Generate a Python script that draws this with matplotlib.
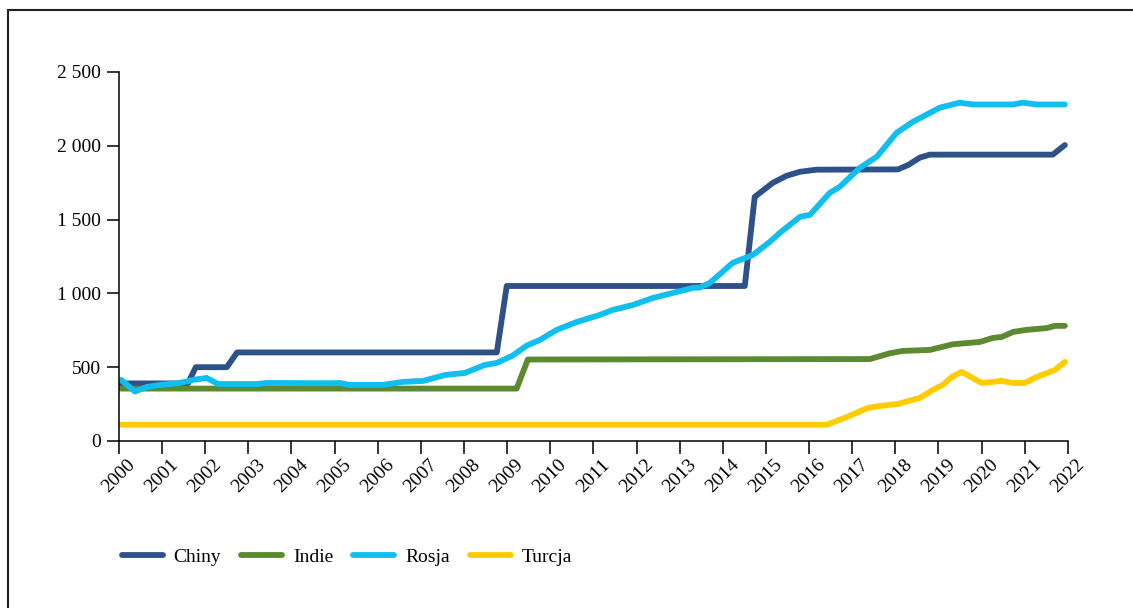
import matplotlib.pyplot as plt
from matplotlib.patches import Rectangle

plt.rcParams['font.family'] = ['Liberation Serif', 'DejaVu Serif']

# breakpoints of each series (year, value)
chiny_x = [2000.05, 2001.6, 2001.78, 2002.5, 2002.74, 2008.76, 2008.99, 2014.51, 2014.74,
           2015.16, 2015.48, 2015.79, 2016.17, 2018.06, 2018.3, 2018.57, 2018.8, 2021.65, 2021.93]
chiny_y = [390, 390, 500, 500, 600, 600, 1050, 1050, 1654,
           1749, 1797, 1824, 1838, 1840, 1870, 1920, 1940, 1940, 2005]

indie_x = [2000.05, 2009.22, 2009.48, 2017.41, 2017.87, 2018.17, 2018.8, 2019.33, 2019.96,
           2020.26, 2020.47, 2020.73, 2021.05, 2021.51, 2021.7, 2021.93]
indie_y = [355, 355, 552, 555, 594, 610, 617, 655, 671,
           698, 705, 739, 753, 765, 780, 780]

rosja_x = [2000.05, 2000.37, 2000.65, 2000.95, 2001.41, 2001.72, 2002.03, 2002.3, 2003.2,
           2003.43, 2004.9, 2005.12, 2005.35, 2006.12, 2006.58, 2007.05, 2007.56, 2008.02,
           2008.48, 2008.76, 2009.11, 2009.46, 2009.76, 2010.15, 2010.62, 2011.15, 2011.45,
           2011.92, 2012.38, 2012.84, 2013.3, 2013.47, 2013.7, 2014.23, 2014.7, 2015.09,
           2015.32, 2015.79, 2016.02, 2016.48, 2016.71, 2017.18, 2017.57, 2018.03, 2018.41,
           2019.03, 2019.49, 2019.8, 2020.73, 2020.95, 2021.28, 2021.93]
rosja_y = [414, 335, 366, 380, 393, 414, 427, 386, 386,
           393, 391, 393, 380, 380, 400, 407, 447, 461,
           515, 529, 576, 647, 685, 753, 807, 854, 888,
           922, 969, 1003, 1037, 1040, 1071, 1207, 1261, 1349,
           1410, 1519, 1532, 1681, 1722, 1851, 1926, 2088, 2163,
           2258, 2292, 2280, 2280, 2292, 2280, 2280]

turcja_x = [2000.05, 2016.41, 2016.88, 2017.36, 2017.64, 2018.06, 2018.57, 2018.87, 2019.1,
            2019.31, 2019.54, 2020.0, 2020.47, 2020.73, 2021.0, 2021.28, 2021.7, 2021.93]
turcja_y = [110, 110, 163, 224, 237, 251, 292, 346, 380,
            434, 468, 393, 407, 393, 393, 434, 481, 536]

years = list(range(2000, 2023))
y_ticks = [0, 500, 1000, 1500, 2000, 2500]
y_labels = ["0", "500", "1 000", "1 500", "2 000", "2 500"]

fig = plt.figure(figsize=(11.33, 6.08), dpi=100)
ax = fig.add_axes([0.105, 0.2747, 0.8375, 0.6069])

lw = 4.2
ax.plot(chiny_x, chiny_y, color="#2f5189", lw=lw, solid_capstyle="round", label="Chiny")
ax.plot(indie_x, indie_y, color="#5b8a31", lw=lw, solid_capstyle="round", label="Indie")
ax.plot(rosja_x, rosja_y, color="#10bff0", lw=lw, solid_capstyle="round", label="Rosja")
ax.plot(turcja_x, turcja_y, color="#ffcc00", lw=lw, solid_capstyle="round", label="Turcja")

ax.set_xlim(2000, 2022)
ax.set_ylim(0, 2500)
ax.set_xticks(years)
ax.set_xticklabels([str(y) for y in years], rotation=45, ha="center", fontsize=14)
ax.set_yticks(y_ticks)
ax.set_yticklabels(y_labels, fontsize=14)
ax.tick_params(axis="both", direction="out", length=9, width=1.1, color="black")
ax.tick_params(axis="y", pad=4)
ax.tick_params(axis="x", pad=2)
for side in ["top", "right"]:
    ax.spines[side].set_visible(False)
for side in ["left", "bottom"]:
    ax.spines[side].set_linewidth(1.1)

fig.legend(loc="center left", bbox_to_anchor=(0.092, 0.084), ncol=4, frameon=False,
           fontsize=14, handlelength=2.1, handletextpad=0.55, columnspacing=1.05)

# outer frame
fig.patches.append(Rectangle((8 / 1133, -0.2), 1.2, 1.2 - 10 / 608, transform=fig.transFigure,
                             fill=False, edgecolor="#222222", linewidth=1.5))

fig.savefig("out.png", dpi=100)
